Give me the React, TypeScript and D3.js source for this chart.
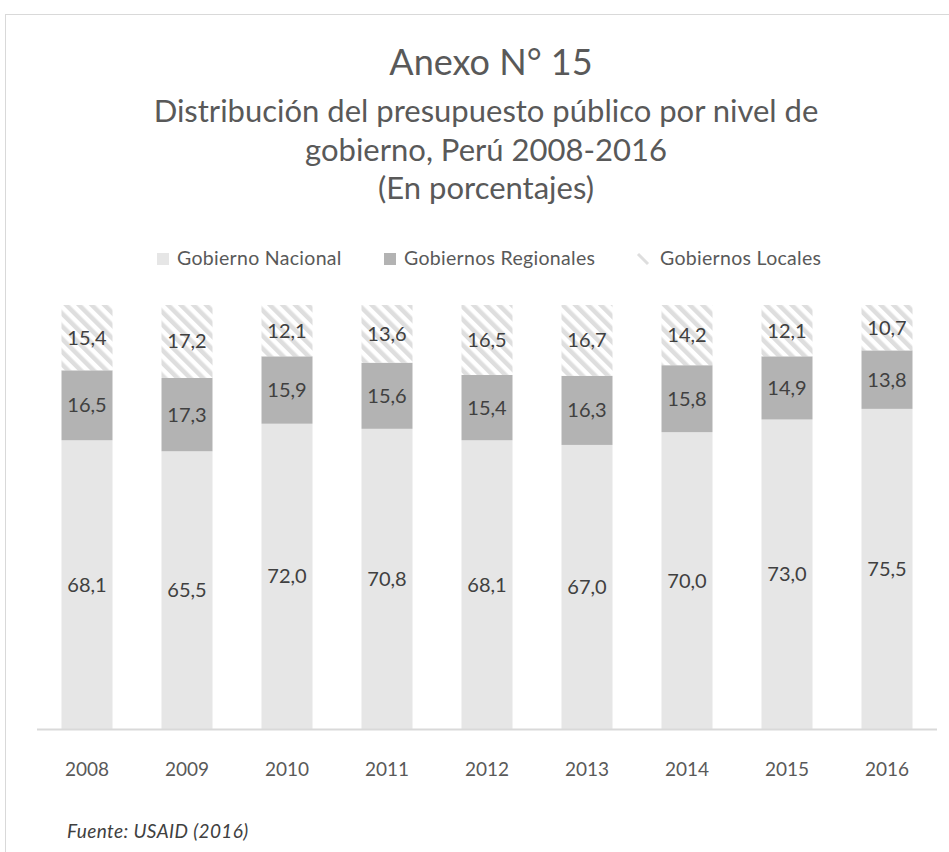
import React, { useEffect, useRef } from "react";
import * as d3 from "d3";

const years = ["2008", "2009", "2010", "2011", "2012", "2013", "2014", "2015", "2016"];
const nacional = [68.1, 65.5, 72.0, 70.8, 68.1, 67.0, 70.0, 73.0, 75.5];
const regionales = [16.5, 17.3, 15.9, 15.6, 15.4, 16.3, 15.8, 14.9, 13.8];
const locales = [15.4, 17.2, 12.1, 13.6, 16.5, 16.7, 14.2, 12.1, 10.7];
const seriesNames = ["Gobierno Nacional", "Gobiernos Regionales", "Gobiernos Locales"];

const titleLines = [
  "Distribución del presupuesto público por nivel de",
  "gobierno, Perú 2008-2016",
  "(En porcentajes)",
];

const FONT = "Lato, 'Open Sans', sans-serif";

const App = () => {
  const svgRef = useRef<SVGSVGElement>(null);

  useEffect(() => {
    const svg = d3.select(svgRef.current);
    svg.selectAll("*").remove();

    const W = 949;
    const H = 852;
    const fmt = (v: number) => d3.format(".1f")(v).replace(".", ",");

    // patrón rayado para Gobiernos Locales
    const defs = svg.append("defs");
    const pat = defs
      .append("pattern")
      .attr("id", "hatch")
      .attr("patternUnits", "userSpaceOnUse")
      .attr("width", 9)
      .attr("height", 9)
      .attr("patternTransform", "rotate(-45)");
    pat.append("rect").attr("width", 9).attr("height", 9).attr("fill", "#fff");
    pat.append("rect").attr("width", 4.5).attr("height", 9).attr("fill", "#dedede");

    // marco
    svg
      .append("rect")
      .attr("x", 5.5)
      .attr("y", 14.5)
      .attr("width", W + 20)
      .attr("height", H + 20)
      .attr("fill", "#fff")
      .attr("stroke", "#d9d9d9");

    // títulos
    svg
      .append("text")
      .attr("x", 491)
      .attr("y", 75)
      .attr("text-anchor", "middle")
      .attr("font-family", FONT)
      .attr("font-size", 36)
      .attr("fill", "#595959")
      .text("Anexo N° 15");

    titleLines.forEach((t, i) => {
      svg
        .append("text")
        .attr("x", 486)
        .attr("y", 122 + i * 38.5)
        .attr("text-anchor", "middle")
        .attr("font-family", FONT)
        .attr("font-size", 31)
        .attr("fill", "#595959")
        .text(t);
    });

    // leyenda
    const legendX = [157, 384, 637];
    const legendFill = ["#e6e6e6", "#b3b3b3", "url(#hatch)"];
    seriesNames.forEach((name, i) => {
      const g = svg.append("g").attr("transform", `translate(${legendX[i]},253)`);
      if (i < 2) {
        g.append("rect").attr("width", 12).attr("height", 12).attr("fill", legendFill[i]);
      } else {
        g.append("line")
          .attr("x1", 1)
          .attr("y1", 1)
          .attr("x2", 11)
          .attr("y2", 11)
          .attr("stroke", "#dedede")
          .attr("stroke-width", 3);
      }
      g.append("text")
        .attr("x", i < 2 ? 20 : 23)
        .attr("y", 12)
        .attr("font-family", FONT)
        .attr("font-size", 19.5)
        .attr("letter-spacing", 0.3)
        .attr("fill", "#595959")
        .text(name);
    });

    // escalas
    const x = d3.scaleBand().domain(years).range([37, 937]).paddingInner(0.49).paddingOuter(0.245);
    const y = d3.scaleLinear().domain([0, 100]).range([729, 305]);

    const rows = years.map((yr, i) => ({
      year: yr,
      nacional: nacional[i],
      regionales: regionales[i],
      locales: locales[i],
    }));
    const keys = ["nacional", "regionales", "locales"];
    const fills = ["#e6e6e6", "#b3b3b3", "url(#hatch)"];
    const stacked = d3.stack<any>().keys(keys)(rows);

    stacked.forEach((layer, li) => {
      const g = svg.append("g");
      g.selectAll("rect")
        .data(layer)
        .join("rect")
        .attr("x", (d: any) => x(d.data.year)!)
        .attr("y", (d) => y(d[1]))
        .attr("width", x.bandwidth())
        .attr("height", (d) => y(d[0]) - y(d[1]))
        .attr("fill", fills[li]);
      g.selectAll("text")
        .data(layer)
        .join("text")
        .attr("x", (d: any) => x(d.data.year)! + x.bandwidth() / 2)
        .attr("y", (d) => (y(d[0]) + y(d[1])) / 2)
        .attr("dy", "0.35em")
        .attr("text-anchor", "middle")
        .attr("font-family", FONT)
        .attr("font-size", 20)
        .attr("fill", "#404040")
        .text((d) => fmt(d[1] - d[0]));
    });

    // eje
    svg
      .append("line")
      .attr("x1", 37)
      .attr("x2", 937)
      .attr("y1", 729.5)
      .attr("y2", 729.5)
      .attr("stroke", "#d9d9d9")
      .attr("stroke-width", 2);

    svg
      .append("g")
      .selectAll("text")
      .data(years)
      .join("text")
      .attr("x", (d) => x(d)! + x.bandwidth() / 2)
      .attr("y", 776)
      .attr("text-anchor", "middle")
      .attr("font-family", FONT)
      .attr("font-size", 19)
      .attr("fill", "#595959")
      .text((d) => d);

    // fuente
    svg
      .append("text")
      .attr("x", 67)
      .attr("y", 838)
      .attr("font-family", FONT)
      .attr("font-style", "italic")
      .attr("font-size", 19)
      .attr("letter-spacing", 0.4)
      .attr("fill", "#404040")
      .text("Fuente: USAID (2016)");
  }, []);

  return (
    <svg
      ref={svgRef}
      width={949}
      height={852}
      style={{ position: "absolute", left: 0, top: 0, display: "block" }}
    />
  );
};

export default App;
